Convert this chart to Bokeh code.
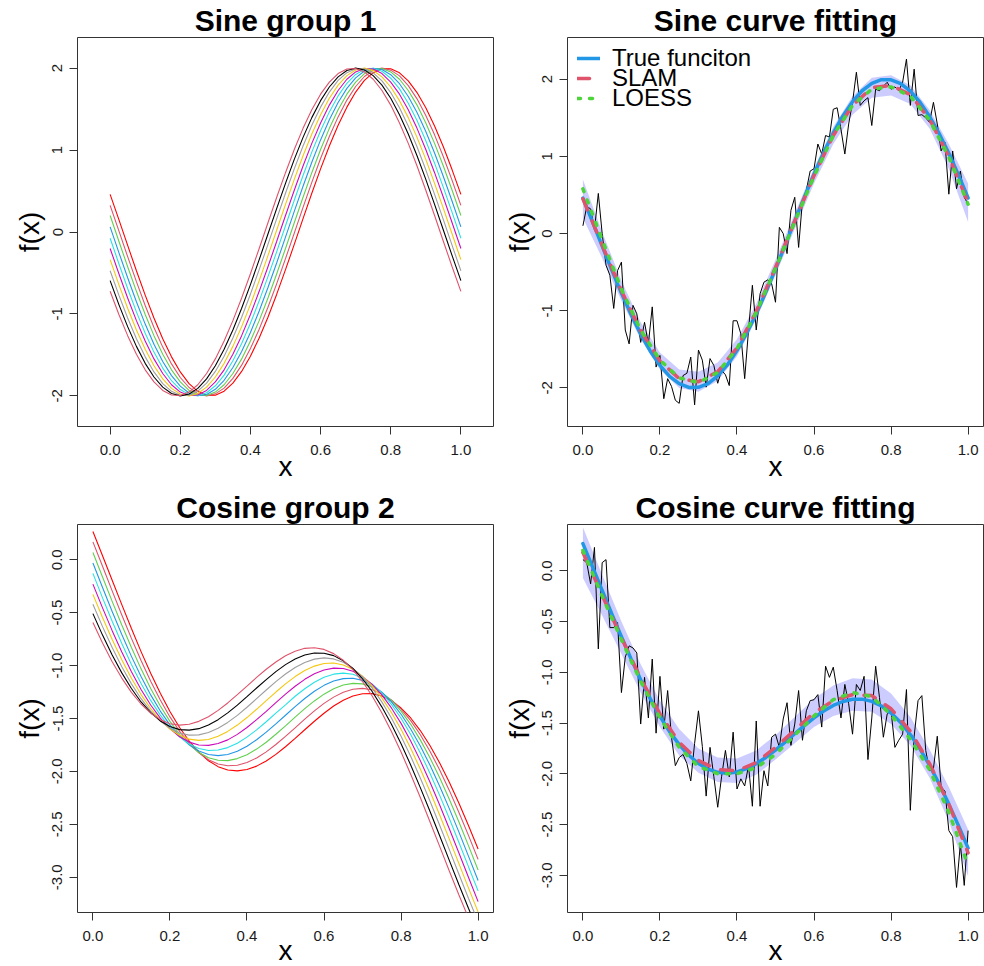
from bokeh.plotting import figure
from bokeh.layouts import column, row
from bokeh.models import Range1d, FixedTicker, NumeralTickFormatter, Title, Legend, LegendItem
from bokeh.embed import file_html
from bokeh.resources import INLINE

FONT = "Liberation Sans"

# ---------------- data ----------------
x_curve = [i / 40 for i in range(41)]      # curves sampled every 0.025
x_fit = [i / 20 for i in range(21)]        # fitted curves sampled every 0.05
x_obs = [i / 100 for i in range(101)]      # noisy observations every 0.01

group_colors = ["#FF0000", "#DF536B", "#61D04F", "#2297E6", "#28E2E5",
                "#CD0BBC", "#F5C710", "#9E9E9E", "#000000", "#DF536B"]

sine_group1 = [
    [0.460, 0.151, -0.164, -0.473, -0.771, -1.050, -1.303, -1.524, -1.708, -1.850, -1.945, -1.994, -1.992, -1.943, -1.845, -1.702, -1.516, -1.294, -1.040, -0.759, -0.460, -0.151, 0.164, 0.473, 0.771, 1.050, 1.303, 1.524, 1.708, 1.850, 1.945, 1.994, 1.992, 1.943, 1.845, 1.702, 1.516, 1.294, 1.040, 0.759, 0.460],
    [0.325, 0.013, -0.301, -0.606, -0.897, -1.166, -1.405, -1.610, -1.776, -1.898, -1.973, -2.000, -1.976, -1.906, -1.787, -1.625, -1.422, -1.186, -0.919, -0.630, -0.325, -0.013, 0.301, 0.606, 0.897, 1.166, 1.405, 1.610, 1.776, 1.898, 1.973, 2.000, 1.976, 1.906, 1.787, 1.625, 1.422, 1.186, 0.919, 0.630, 0.325],
    [0.201, -0.113, -0.424, -0.724, -1.007, -1.265, -1.491, -1.682, -1.830, -1.934, -1.989, -1.996, -1.954, -1.864, -1.727, -1.549, -1.331, -1.082, -0.806, -0.509, -0.201, 0.113, 0.424, 0.724, 1.007, 1.265, 1.491, 1.682, 1.830, 1.934, 1.989, 1.996, 1.954, 1.864, 1.727, 1.549, 1.331, 1.082, 0.806, 0.509, 0.201],
    [0.063, -0.251, -0.558, -0.852, -1.124, -1.369, -1.580, -1.753, -1.881, -1.965, -1.998, -1.984, -1.920, -1.810, -1.654, -1.458, -1.226, -0.964, -0.677, -0.375, -0.063, 0.251, 0.558, 0.852, 1.124, 1.369, 1.580, 1.753, 1.881, 1.965, 1.998, 1.984, 1.920, 1.810, 1.654, 1.458, 1.226, 0.964, 0.677, 0.375, 0.063],
    [-0.076, -0.387, -0.689, -0.975, -1.235, -1.466, -1.661, -1.815, -1.923, -1.985, -1.998, -1.962, -1.877, -1.747, -1.572, -1.360, -1.114, -0.840, -0.545, -0.239, 0.076, 0.387, 0.689, 0.975, 1.235, 1.466, 1.661, 1.815, 1.923, 1.985, 1.998, 1.962, 1.877, 1.747, 1.572, 1.360, 1.114, 0.840, 0.545, 0.239, -0.076],
    [-0.201, -0.509, -0.806, -1.082, -1.331, -1.549, -1.727, -1.864, -1.954, -1.996, -1.989, -1.934, -1.830, -1.682, -1.491, -1.265, -1.007, -0.724, -0.424, -0.113, 0.201, 0.509, 0.806, 1.082, 1.331, 1.549, 1.727, 1.864, 1.954, 1.996, 1.989, 1.934, 1.830, 1.682, 1.491, 1.265, 1.007, 0.724, 0.424, 0.113, -0.201],
    [-0.338, -0.642, -0.930, -1.196, -1.431, -1.632, -1.793, -1.909, -1.978, -2.000, -1.971, -1.894, -1.770, -1.603, -1.396, -1.155, -0.886, -0.594, -0.288, 0.025, 0.338, 0.642, 0.930, 1.196, 1.431, 1.632, 1.793, 1.909, 1.978, 2.000, 1.971, 1.894, 1.770, 1.603, 1.396, 1.155, 0.886, 0.594, 0.288, -0.025, -0.338],
    [-0.473, -0.771, -1.050, -1.303, -1.524, -1.708, -1.850, -1.945, -1.994, -1.992, -1.943, -1.845, -1.702, -1.516, -1.294, -1.040, -0.759, -0.460, -0.151, 0.164, 0.473, 0.771, 1.050, 1.303, 1.524, 1.708, 1.850, 1.945, 1.994, 1.992, 1.943, 1.845, 1.702, 1.516, 1.294, 1.040, 0.759, 0.460, 0.151, -0.164, -0.473],
    [-0.594, -0.886, -1.155, -1.396, -1.603, -1.770, -1.894, -1.971, -2.000, -1.978, -1.909, -1.793, -1.632, -1.431, -1.196, -0.930, -0.642, -0.338, -0.025, 0.288, 0.594, 0.886, 1.155, 1.396, 1.603, 1.770, 1.894, 1.971, 2.000, 1.978, 1.909, 1.793, 1.632, 1.431, 1.196, 0.930, 0.642, 0.338, 0.025, -0.288, -0.594],
    [-0.724, -1.007, -1.265, -1.491, -1.682, -1.830, -1.934, -1.989, -1.996, -1.954, -1.864, -1.727, -1.549, -1.331, -1.082, -0.806, -0.509, -0.201, 0.113, 0.424, 0.724, 1.007, 1.265, 1.491, 1.682, 1.830, 1.934, 1.989, 1.996, 1.954, 1.864, 1.727, 1.549, 1.331, 1.082, 0.806, 0.509, 0.201, -0.113, -0.424, -0.724],
]

cosine_group2 = [
    [0.267, 0.038, -0.194, -0.424, -0.650, -0.868, -1.073, -1.262, -1.434, -1.585, -1.713, -1.818, -1.899, -1.955, -1.986, -1.995, -1.982, -1.950, -1.901, -1.839, -1.767, -1.688, -1.606, -1.526, -1.450, -1.382, -1.327, -1.288, -1.266, -1.265, -1.287, -1.332, -1.401, -1.495, -1.614, -1.755, -1.918, -2.100, -2.299, -2.511, -2.733],
    [0.169, -0.062, -0.294, -0.522, -0.743, -0.952, -1.148, -1.326, -1.485, -1.622, -1.735, -1.825, -1.889, -1.930, -1.946, -1.941, -1.916, -1.873, -1.815, -1.746, -1.669, -1.588, -1.506, -1.428, -1.357, -1.298, -1.252, -1.224, -1.215, -1.228, -1.265, -1.325, -1.411, -1.520, -1.654, -1.809, -1.984, -2.177, -2.385, -2.604, -2.831],
    [0.069, -0.163, -0.393, -0.616, -0.830, -1.031, -1.216, -1.382, -1.527, -1.649, -1.747, -1.821, -1.870, -1.895, -1.898, -1.879, -1.842, -1.789, -1.724, -1.649, -1.569, -1.487, -1.407, -1.334, -1.270, -1.219, -1.184, -1.168, -1.173, -1.201, -1.253, -1.329, -1.430, -1.555, -1.702, -1.871, -2.058, -2.261, -2.476, -2.701, -2.931],
    [-0.031, -0.262, -0.489, -0.707, -0.913, -1.104, -1.277, -1.430, -1.560, -1.667, -1.749, -1.807, -1.840, -1.851, -1.840, -1.810, -1.762, -1.701, -1.629, -1.550, -1.469, -1.388, -1.311, -1.243, -1.187, -1.146, -1.123, -1.120, -1.140, -1.183, -1.251, -1.343, -1.460, -1.599, -1.760, -1.940, -2.138, -2.349, -2.571, -2.800, -3.031],
    [-0.129, -0.360, -0.581, -0.792, -0.989, -1.169, -1.329, -1.468, -1.583, -1.674, -1.741, -1.783, -1.802, -1.798, -1.775, -1.733, -1.676, -1.608, -1.531, -1.450, -1.371, -1.290, -1.219, -1.158, -1.111, -1.081, -1.071, -1.082, -1.117, -1.176, -1.259, -1.367, -1.498, -1.652, -1.825, -2.017, -2.224, -2.442, -2.669, -2.900, -3.129],
    [-0.230, -0.455, -0.670, -0.872, -1.058, -1.226, -1.372, -1.496, -1.596, -1.672, -1.723, -1.750, -1.754, -1.737, -1.702, -1.650, -1.585, -1.511, -1.432, -1.350, -1.270, -1.195, -1.130, -1.078, -1.042, -1.024, -1.028, -1.054, -1.104, -1.178, -1.277, -1.400, -1.546, -1.713, -1.898, -2.100, -2.315, -2.539, -2.768, -3.000, -3.230],
    [-0.327, -0.546, -0.753, -0.945, -1.120, -1.274, -1.406, -1.515, -1.599, -1.659, -1.695, -1.707, -1.698, -1.668, -1.622, -1.562, -1.491, -1.413, -1.331, -1.250, -1.173, -1.104, -1.047, -1.005, -0.980, -0.976, -0.994, -1.035, -1.101, -1.191, -1.305, -1.443, -1.602, -1.782, -1.978, -2.188, -2.409, -2.637, -2.869, -3.100, -3.327],
    [-0.420, -0.632, -0.830, -1.011, -1.173, -1.313, -1.431, -1.524, -1.593, -1.637, -1.657, -1.655, -1.633, -1.593, -1.537, -1.470, -1.394, -1.313, -1.231, -1.152, -1.080, -1.018, -0.970, -0.939, -0.927, -0.937, -0.969, -1.026, -1.107, -1.213, -1.343, -1.495, -1.667, -1.857, -2.063, -2.280, -2.506, -2.737, -2.969, -3.198, -3.420],
    [-0.509, -0.712, -0.900, -1.069, -1.217, -1.344, -1.445, -1.523, -1.575, -1.605, -1.610, -1.596, -1.561, -1.511, -1.447, -1.374, -1.294, -1.212, -1.132, -1.057, -0.991, -0.938, -0.900, -0.881, -0.883, -0.906, -0.955, -1.027, -1.125, -1.245, -1.390, -1.554, -1.739, -1.939, -2.153, -2.376, -2.606, -2.838, -3.068, -3.293, -3.509],
    [-0.593, -0.786, -0.963, -1.118, -1.253, -1.363, -1.450, -1.511, -1.549, -1.563, -1.555, -1.527, -1.483, -1.423, -1.353, -1.275, -1.194, -1.112, -1.035, -0.966, -0.907, -0.864, -0.837, -0.832, -0.847, -0.887, -0.950, -1.039, -1.151, -1.287, -1.445, -1.623, -1.817, -2.027, -2.247, -2.475, -2.706, -2.938, -3.165, -3.384, -3.593],
]

# Sine curve fitting
sine_obs = [0.10, 0.35, 0.32, 0.05, 0.52, 0.00, -0.41, -0.54, -0.97, -0.48,
            -0.37, -1.25, -1.43, -0.93, -1.04, -1.41, -1.15, -1.43, -0.95, -1.73,
            -1.58, -2.14, -1.88, -1.98, -2.16, -2.20, -1.84, -1.81, -1.60, -2.22,
            -1.51, -1.64, -1.99, -1.62, -1.71, -1.94, -1.77, -1.83, -1.97, -1.13,
            -1.13, -1.30, -1.88, -1.25, -0.67, -1.25, -0.78, -0.63, -0.60, -0.65,
            -0.89, 0.08, 0.00, -0.26, 0.30, 0.47, -0.18, 0.43, 0.56, 0.81,
            0.84, 1.16, 1.03, 1.27, 1.25, 1.61, 1.63, 1.35, 1.03, 1.42,
            1.70, 2.09, 1.66, 1.72, 1.76, 1.40, 1.87, 1.85, 1.91, 1.96,
            1.87, 1.90, 1.85, 1.96, 2.26, 1.66, 2.13, 1.53, 1.54, 1.50,
            1.44, 1.70, 1.42, 1.07, 1.18, 0.51, 1.07, 0.58, 0.81, 0.47, 0.38]
sine_true = [0.460, 0.151, -0.164, -0.473, -0.771, -1.050, -1.303, -1.524, -1.708, -1.850, -1.945, -1.994, -1.992, -1.943, -1.845, -1.702, -1.516, -1.294, -1.040, -0.759, -0.460,
             -0.151, 0.164, 0.473, 0.771, 1.050, 1.303, 1.524, 1.708, 1.850, 1.945, 1.994, 1.992, 1.943, 1.845, 1.702, 1.516, 1.294, 1.040, 0.759, 0.460]
sine_slam = [0.45, -0.15, -0.74, -1.26, -1.65, -1.88, -1.92, -1.79, -1.48, -1.01, -0.44,
             0.16, 0.75, 1.27, 1.66, 1.89, 1.92, 1.80, 1.48, 1.00, 0.40]
sine_loess = [0.58, -0.08, -0.72, -1.25, -1.64, -1.87, -1.93, -1.80, -1.49, -1.02, -0.45,
              0.15, 0.74, 1.27, 1.66, 1.87, 1.90, 1.78, 1.47, 0.99, 0.38]
sine_band_lo = [0.20, -0.32, -0.87, -1.37, -1.76, -2.00, -2.05, -1.91, -1.59, -1.11, -0.54,
                0.06, 0.65, 1.16, 1.54, 1.76, 1.79, 1.68, 1.36, 0.84, 0.15]
sine_band_hi = [0.70, 0.02, -0.61, -1.15, -1.54, -1.76, -1.79, -1.67, -1.37, -0.91, -0.34,
                0.26, 0.85, 1.38, 1.78, 2.02, 2.05, 1.92, 1.60, 1.16, 0.65]

# Cosine curve fitting
cos_obs = [0.11, 0.08, -0.13, 0.23, -0.77, 0.08, 0.11, -0.56, -0.56, -0.51,
           -1.20, -0.85, -0.74, -0.76, -0.81, -1.51, -1.05, -1.45, -0.87, -1.60,
           -1.04, -1.56, -1.18, -1.64, -1.92, -1.84, -1.81, -1.90, -2.07, -1.70,
           -1.38, -1.73, -2.22, -1.74, -2.03, -2.33, -2.03, -1.77, -2.03, -1.59,
           -2.15, -2.05, -2.12, -1.92, -2.32, -1.48, -2.32, -1.97, -2.12, -1.64,
           -1.61, -1.74, -1.46, -1.30, -1.72, -1.51, -1.18, -1.67, -1.38, -1.28,
           -1.27, -1.22, -1.54, -0.94, -1.05, -0.95, -1.18, -1.45, -1.12, -1.31,
           -1.61, -1.12, -1.18, -1.04, -1.86, -1.45, -0.94, -1.25, -1.64, -1.41,
           -1.38, -1.74, -1.67, -1.61, -1.17, -2.36, -1.63, -1.28, -1.23, -1.77,
           -1.97, -1.95, -1.63, -2.13, -2.17, -2.56, -2.62, -3.12, -2.69, -3.10, -2.56]
cos_true = [0.267, 0.038, -0.194, -0.424, -0.650, -0.868, -1.073, -1.262, -1.434, -1.585, -1.713, -1.818, -1.899, -1.955, -1.986, -1.995, -1.982, -1.950, -1.901, -1.839, -1.767,
            -1.688, -1.606, -1.526, -1.450, -1.382, -1.327, -1.288, -1.266, -1.265, -1.287, -1.332, -1.401, -1.495, -1.614, -1.755, -1.918, -2.100, -2.299, -2.511, -2.733]
cos_slam = [0.18, -0.24, -0.66, -1.06, -1.41, -1.69, -1.87, -1.96, -1.97, -1.89, -1.74,
            -1.57, -1.40, -1.28, -1.22, -1.23, -1.36, -1.58, -1.90, -2.30, -2.78]
cos_loess = [0.20, -0.25, -0.68, -1.09, -1.45, -1.74, -1.93, -2.00, -2.00, -1.94, -1.81,
             -1.62, -1.43, -1.27, -1.20, -1.24, -1.42, -1.66, -1.96, -2.38, -2.90]
cos_band_lo = [-0.07, -0.44, -0.82, -1.20, -1.54, -1.82, -1.99, -2.08, -2.09, -2.01, -1.86,
               -1.70, -1.54, -1.43, -1.38, -1.39, -1.51, -1.72, -2.04, -2.47, -3.01]
cos_band_hi = [0.43, -0.04, -0.50, -0.92, -1.28, -1.56, -1.75, -1.84, -1.85, -1.77, -1.62,
               -1.44, -1.26, -1.13, -1.06, -1.07, -1.21, -1.44, -1.76, -2.13, -2.55]

x_ticks = [0.0, 0.2, 0.4, 0.6, 0.8, 1.0]
sine_y_ticks = [-2, -1, 0, 1, 2]
cos_y_ticks = [0.0, -0.5, -1.0, -1.5, -2.0, -2.5, -3.0]

legend_labels = ["True funciton", "SLAM", "LOESS"]
titles = ["Sine group 1", "Sine curve fitting", "Cosine group 2", "Cosine curve fitting"]

# ---------------- styling helpers ----------------
BOX = "#333333"


def make_fig(xr, yr, fw, fh, bl, bt, br, bb, yticks, yfmt, title, xlab_standoff):
    p = figure(x_range=Range1d(*xr), y_range=Range1d(*yr),
               frame_width=fw, frame_height=fh,
               min_border_left=bl, min_border_top=bt, min_border_right=br, min_border_bottom=bb,
               output_backend="svg", toolbar_location=None,
               background_fill_color="white", border_fill_color="white")
    p.grid.visible = False
    p.outline_line_color = BOX
    p.outline_line_width = 1
    for ax in (p.xaxis, p.yaxis):
        ax.axis_line_color = None
        ax.major_tick_out = 8
        ax.major_tick_in = 0
        ax.major_tick_line_color = BOX
        ax.minor_tick_line_color = None
        ax.major_label_text_font = FONT
        ax.major_label_text_font_size = "15px"
        ax.major_label_text_color = "#1a1a1a"
        ax.axis_label_text_font = FONT
        ax.axis_label_text_font_size = "28px"
        ax.axis_label_text_font_style = "normal"
        ax.axis_label_text_color = "black"
    p.xaxis.ticker = FixedTicker(ticks=x_ticks)
    p.xaxis.formatter = NumeralTickFormatter(format="0.0")
    p.xaxis.major_label_standoff = 10
    p.xaxis.axis_label = "x"
    p.xaxis.axis_label_standoff = xlab_standoff
    p.yaxis.ticker = FixedTicker(ticks=yticks)
    p.yaxis.formatter = NumeralTickFormatter(format=yfmt)
    p.yaxis.major_label_orientation = "vertical"
    p.yaxis.major_label_standoff = 7
    p.yaxis.axis_label = "f(x)"
    p.yaxis.axis_label_standoff = 5

    p.add_layout(Title(text=title, align="center", vertical_align="bottom", standoff=1,
                       text_font=FONT, text_font_style="bold", text_font_size="30px",
                       text_color="black"), "above")
    return p


def draw_group(p, curves):
    for ys, c in zip(curves, group_colors):
        p.line(x_curve, ys, line_color=c, line_width=1.1)


def draw_fit(p, obs, band_lo, band_hi, true, slam, loess, legend=False):
    p.varea(x=x_fit, y1=band_lo, y2=band_hi, fill_color="#0000FF", fill_alpha=0.2)
    p.line(x_obs, obs, line_color="black", line_width=1)
    r1 = p.line(x_curve, true, line_color="#2297E6", line_width=3.5, line_cap="round", line_join="round")
    r2 = p.line(x_fit, slam, line_color="#DF536B", line_width=3.5, line_dash="12 12", line_cap="round")
    r3 = p.line(x_fit, loess, line_color="#4DD43A", line_width=3.5, line_dash="3 9", line_cap="round")
    if legend:
        # one legend box per entry so that the rows can sit 20px apart, as in the original
        row_bottoms = [354, 334, 314]
        for lab, rend, yb in zip(legend_labels, [r1, r2, r3], row_bottoms):
            lg = Legend(items=[LegendItem(label=lab, renderers=[rend])],
                        location=(10, yb), margin=0, padding=0,
                        glyph_width=23, glyph_height=20, label_height=20, label_standoff=12,
                        label_text_font=FONT, label_text_font_size="24px", label_text_color="black",
                        background_fill_alpha=0, border_line_alpha=0)
            p.add_layout(lg)


# ---------------- panels ----------------
p1 = make_fig((-0.093, 1.093), (-2.374, 2.374), 416, 389, 77, 37, 3, 54, sine_y_ticks, "0", titles[0], -7)
draw_group(p1, sine_group1)

p2 = make_fig((-0.04, 1.04), (-2.50, 2.54), 416, 389, 71, 37, 1, 54, sine_y_ticks, "0", titles[1], -7)
draw_fit(p2, sine_obs, sine_band_lo, sine_band_hi, sine_true, sine_slam, sine_loess, legend=True)

p3 = make_fig((-0.04, 1.04), (-3.333, 0.333), 416, 388, 77, 40, 3, 57, cos_y_ticks, "0.0", titles[2], -9)
draw_group(p3, cosine_group2)

p4 = make_fig((-0.04, 1.04), (-3.367, 0.456), 416, 388, 71, 40, 1, 57, cos_y_ticks, "0.0", titles[3], -9)
draw_fit(p4, cos_obs, cos_band_lo, cos_band_hi, cos_true, cos_slam, cos_loess)

layout = column(row(p1, p2), row(p3, p4))

open("out.html", "w").write(file_html(layout, INLINE))
